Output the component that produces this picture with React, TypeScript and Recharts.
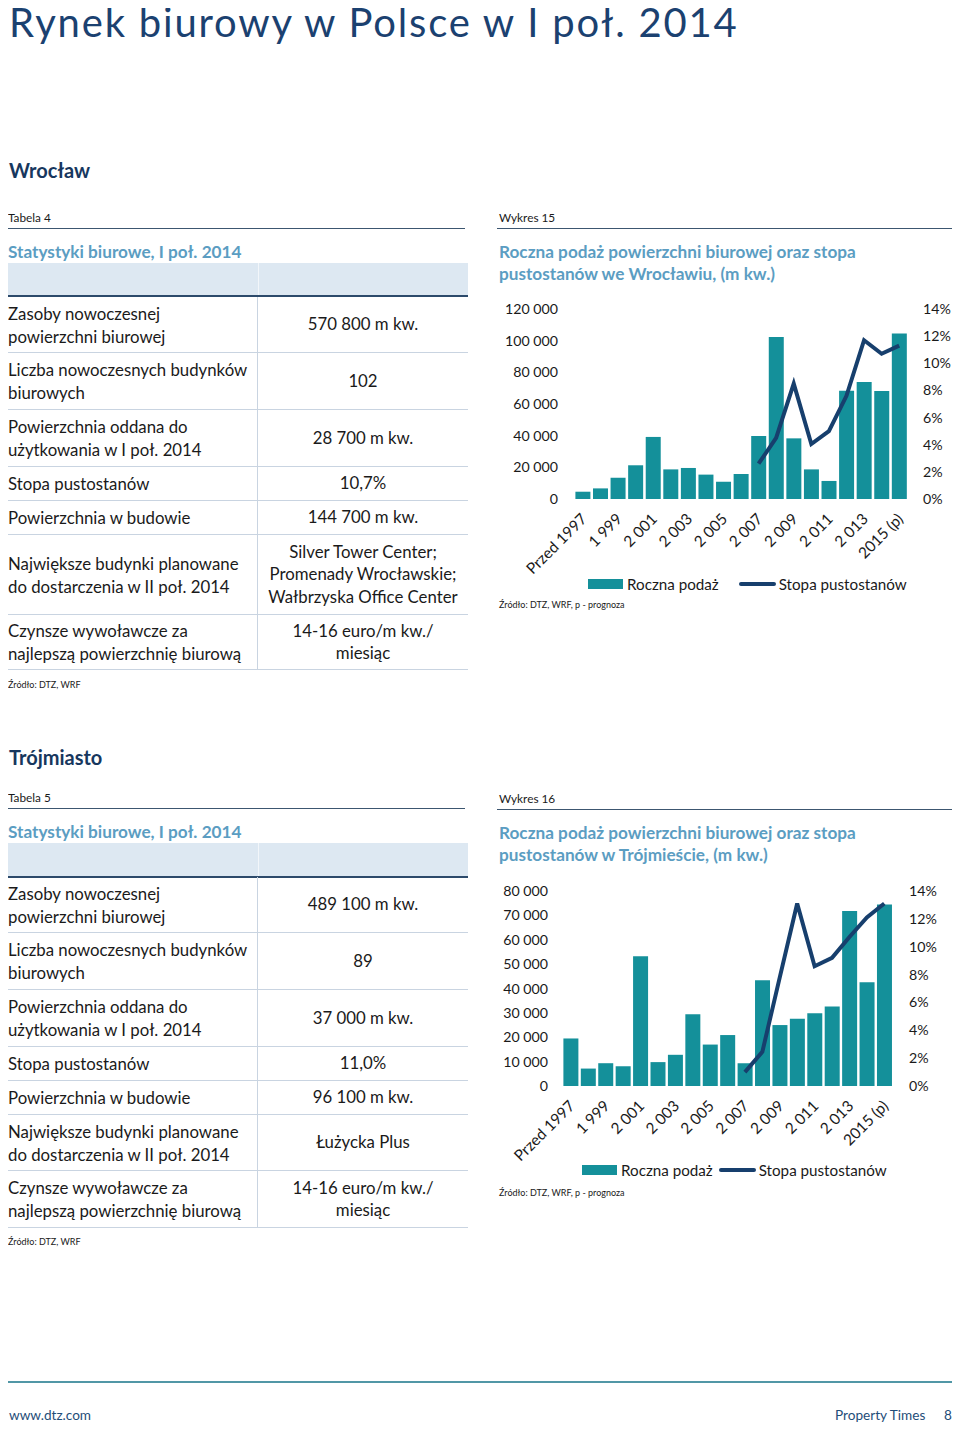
import React from 'react';
import { ComposedChart, Bar, Line, XAxis, YAxis, Legend } from 'recharts';

const FONT = "Lato, 'Open Sans', sans-serif";
const NAVY = '#173f6d';
const DARK = '#17375e';
const TEAL = '#14909a';
const LIGHTBLUE = '#5b9dc2';
const TEXT = '#1a1a1a';

// ---- chart data ----
const categories = ['Przed 1997', '1 998', '1 999', '2 000', '2 001', '2 002', '2 003', '2 004', '2 005', '2 006', '2 007', '2 008', '2 009', '2 010', '2 011', '2 012', '2 013', '2 014', '2015 (p)'];
const wroclawSupply = [4600, 6700, 13500, 21300, 39200, 18700, 19600, 15400, 10900, 15800, 39800, 102300, 38300, 18700, 11400, 68400, 73900, 68200, 104600];
const wroclawVacancy = [null, null, null, null, null, null, null, null, null, null, 0.026, 0.045, 0.085, 0.0405, 0.05, 0.076, 0.117, 0.107, 0.113];
const trojmiastoSupply = [19500, 7150, 9350, 8100, 53200, 9800, 12800, 29400, 17000, 20900, 9350, 43400, 25000, 27600, 29800, 32600, 71800, 42600, 74500];
const trojmiastoVacancy = [null, null, null, null, null, null, null, null, null, null, 0.01, 0.0245, 0.078, 0.131, 0.086, 0.092, 0.107, 0.121, 0.131];
const wroclawLeftTicks = [0, 20000, 40000, 60000, 80000, 100000, 120000];
const trojmiastoLeftTicks = [0, 10000, 20000, 30000, 40000, 50000, 60000, 70000, 80000];
const rightTicks = [0, 0.02, 0.04, 0.06, 0.08, 0.1, 0.12, 0.14];
const seriesNames = ['Roczna podaż', 'Stopa pustostanów'];

// ---- table data ----
const tableLabels = [
  ['Zasoby nowoczesnej', 'powierzchni biurowej'],
  ['Liczba nowoczesnych budynków', 'biurowych'],
  ['Powierzchnia oddana do', 'użytkowania w I poł. 2014'],
  ['Stopa pustostanów'],
  ['Powierzchnia w budowie'],
  ['Największe budynki planowane', 'do dostarczenia w II poł. 2014'],
  ['Czynsze wywoławcze za', 'najlepszą powierzchnię biurową'],
];
const wroclawValues = [
  ['570 800 m kw.'],
  ['102'],
  ['28 700 m kw.'],
  ['10,7%'],
  ['144 700 m kw.'],
  ['Silver Tower Center;', 'Promenady Wrocławskie;', 'Wałbrzyska Office Center'],
  ['14-16 euro/m kw./', 'miesiąc'],
];
const trojmiastoValues = [
  ['489 100 m kw.'],
  ['89'],
  ['37 000 m kw.'],
  ['11,0%'],
  ['96 100 m kw.'],
  ['Łużycka Plus'],
  ['14-16 euro/m kw./', 'miesiąc'],
];
const wroclawRowHeights = [56, 57, 57, 34, 34, 80, 55];
const trojmiastoRowHeights = [56, 57, 57, 34, 34, 56, 57];

const fmtThousands = (v: number) => String(v).replace(/\B(?=(\d{3})+(?!\d))/g, ' ');
const fmtPct = (v: number) => `${Math.round(v * 100)}%`;

function Txt({ x, cy, fs, children, style }: any) {
  return (
    <div
      style={{
        position: 'absolute',
        left: x,
        top: cy - 0.6 * fs,
        fontSize: fs,
        lineHeight: `${fs * 1.2}px`,
        fontFamily: FONT,
        whiteSpace: 'nowrap',
        ...style,
      }}
    >
      {children}
    </div>
  );
}

function HLine({ x1, x2, y, color, w = 1 }: any) {
  return <div style={{ position: 'absolute', left: x1, top: y, width: x2 - x1, height: w, background: color }} />;
}

function StatsTable({ top, values, heights }: any) {
  let y = top;
  const rows = tableLabels.map((lab, i) => {
    const h = heights[i];
    const rowTop = y;
    y += h;
    return (
      <div key={i} style={{ position: 'absolute', left: 3, top: rowTop, width: 465, height: h, borderBottom: '1px solid #c9d4e1', boxSizing: 'border-box', display: 'flex', fontFamily: FONT, fontSize: 16.8, color: TEXT }}>
        <div style={{ width: 255, display: 'flex', flexDirection: 'column', justifyContent: 'center', paddingLeft: 5, lineHeight: '23px', borderRight: '1px solid #c9d4e1', boxSizing: 'border-box' }}>
          {lab.map((l: string, k: number) => <div key={k} style={{ whiteSpace: 'nowrap' }}>{l}</div>)}
        </div>
        <div style={{ flex: 1, display: 'flex', flexDirection: 'column', justifyContent: 'center', alignItems: 'center', lineHeight: '22.5px' }}>
          {values[i].map((l: string, k: number) => <div key={k} style={{ whiteSpace: 'nowrap' }}>{l}</div>)}
        </div>
      </div>
    );
  });
  return <>{rows}</>;
}

const XTick = (props: any) => {
  const { x, y, payload } = props;
  return (
    <g transform={`translate(${x + 5},${y + 21})`}>
      <text transform="rotate(-45)" textAnchor="end" fontSize={15.4} fontFamily={FONT} fill={TEXT}>
        {payload.value}
      </text>
    </g>
  );
};

const LegendContent = ({ padLeft, gap }: any) => (
  <div style={{ height: 24, display: 'flex', alignItems: 'center', paddingLeft: padLeft, fontFamily: FONT, fontSize: 15.2, color: TEXT }}>
    <div style={{ width: 35, height: 10, background: TEAL, marginRight: 4 }} />
    <span>{seriesNames[0]}</span>
    <div style={{ width: 37, height: 4, background: NAVY, marginLeft: gap, marginRight: 3, borderRadius: 2 }} />
    <span>{seriesNames[1]}</span>
  </div>
);

function SupplyChart({ left, top, width, height, supply, vacancy, leftTicks, leftMax, yLeftWidth, yRightWidth, xAxisHeight, leftMargin, rightMargin, padLeft, gap }: any) {
  const data = categories.map((c, i) => ({ name: c, supply: supply[i], vacancy: vacancy[i] }));
  return (
    <div style={{ position: 'absolute', left, top }}>
      <ComposedChart width={width} height={height} data={data} margin={{ top: 14, right: 0, bottom: 0, left: 0 }} barCategoryGap="8%">
        <XAxis dataKey="name" interval={1} tick={<XTick />} tickLine={false} axisLine={false} tickSize={0} tickMargin={0} height={xAxisHeight} />
        <YAxis yAxisId="l" orientation="left" domain={[0, leftMax]} ticks={leftTicks} tickFormatter={fmtThousands} width={yLeftWidth} tickLine={false} axisLine={false} tickSize={0} tickMargin={leftMargin} tick={{ fontSize: 14.2, fontFamily: FONT, fill: TEXT }} interval={0} />
        <YAxis yAxisId="r" orientation="right" domain={[0, 0.14]} ticks={rightTicks} tickFormatter={fmtPct} width={yRightWidth} tickLine={false} axisLine={false} tickSize={0} tickMargin={rightMargin} tick={{ fontSize: 14.2, fontFamily: FONT, fill: TEXT, textAnchor: 'start' }} interval={0} />
        <Bar yAxisId="l" dataKey="supply" name={seriesNames[0]} fill={TEAL} isAnimationActive={false} />
        <Line yAxisId="r" dataKey="vacancy" name={seriesNames[1]} stroke={NAVY} strokeWidth={4} dot={false} isAnimationActive={false} type="linear" />
        <Legend verticalAlign="bottom" align="left" wrapperStyle={{ left: 0, width }} content={() => <LegendContent padLeft={padLeft} gap={gap} />} />
      </ComposedChart>
    </div>
  );
}

export default function App() {
  return (
    <div style={{ position: 'relative', width: 960, height: 1429, margin: '-8px 0 0 -8px', background: '#fff', overflow: 'hidden', fontFamily: FONT }}>
      <div style={{ position: 'absolute', left: 9, top: 0, fontSize: 40, letterSpacing: 1.8, lineHeight: '44px', fontFamily: FONT, whiteSpace: 'nowrap', color: '#1b4170' }}>
        Rynek biurowy w Polsce w I poł. 2014
      </div>

      {/* Wrocław section */}
      <Txt x={9} cy={170} fs={20} style={{ color: DARK, fontWeight: 700 }}>Wrocław</Txt>
      <Txt x={8} cy={218} fs={11.8} style={{ color: TEXT }}>Tabela 4</Txt>
      <HLine x1={5} x2={465} y={228} color="#3c5670" />
      <Txt x={8} cy={252} fs={17.2} style={{ color: LIGHTBLUE, fontWeight: 700 }}>Statystyki biurowe, I poł. 2014</Txt>
      <div style={{ position: 'absolute', left: 3, top: 263, width: 465, height: 32, background: '#dde8f2' }} />
      <div style={{ position: 'absolute', left: 258, top: 263, width: 1, height: 32, background: '#f2f6fa' }} />
      <HLine x1={3} x2={468} y={295} color="#2c4a6b" w={1.5} />
      <StatsTable top={297} values={wroclawValues} heights={wroclawRowHeights} />
      <Txt x={8} cy={685} fs={9} style={{ color: TEXT }}>Źródło: DTZ, WRF</Txt>

      <Txt x={499} cy={218} fs={11.8} style={{ color: TEXT }}>Wykres 15</Txt>
      <HLine x1={497} x2={955} y={228} color="#3c5670" />
      <div style={{ position: 'absolute', left: 499, top: 241, fontFamily: FONT, fontSize: 17.2, lineHeight: '22px', color: LIGHTBLUE, fontWeight: 700, whiteSpace: 'nowrap' }}>
        <div>Roczna podaż powierzchni biurowej oraz stopa</div>
        <div>pustostanów we Wrocławiu, (m kw.)</div>
      </div>
      <SupplyChart left={495} top={295} width={465} height={301} supply={wroclawSupply} vacancy={wroclawVacancy} leftTicks={wroclawLeftTicks} leftMax={120000} yLeftWidth={79} yRightWidth={52} xAxisHeight={73} leftMargin={16} rightMargin={15} padLeft={93} gap={20} />
      <Txt x={499} cy={605} fs={9} style={{ color: TEXT }}>Źródło: DTZ, WRF, p - prognoza</Txt>

      {/* Trójmiasto section */}
      <Txt x={9} cy={757} fs={20} style={{ color: DARK, fontWeight: 700 }}>Trójmiasto</Txt>
      <Txt x={8} cy={798} fs={11.8} style={{ color: TEXT }}>Tabela 5</Txt>
      <HLine x1={5} x2={465} y={808} color="#3c5670" />
      <Txt x={8} cy={832} fs={17.2} style={{ color: LIGHTBLUE, fontWeight: 700 }}>Statystyki biurowe, I poł. 2014</Txt>
      <div style={{ position: 'absolute', left: 3, top: 843, width: 465, height: 33, background: '#dde8f2' }} />
      <div style={{ position: 'absolute', left: 258, top: 843, width: 1, height: 33, background: '#f2f6fa' }} />
      <HLine x1={3} x2={468} y={876} color="#2c4a6b" w={1.5} />
      <StatsTable top={877} values={trojmiastoValues} heights={trojmiastoRowHeights} />
      <Txt x={8} cy={1242} fs={9} style={{ color: TEXT }}>Źródło: DTZ, WRF</Txt>

      <Txt x={499} cy={799} fs={11.8} style={{ color: TEXT }}>Wykres 16</Txt>
      <HLine x1={497} x2={955} y={809} color="#3c5670" />
      <div style={{ position: 'absolute', left: 499, top: 822, fontFamily: FONT, fontSize: 17.2, lineHeight: '22px', color: LIGHTBLUE, fontWeight: 700, whiteSpace: 'nowrap' }}>
        <div>Roczna podaż powierzchni biurowej oraz stopa</div>
        <div>pustostanów w Trójmieście, (m kw.)</div>
      </div>
      <SupplyChart left={490} top={877} width={470} height={305} supply={trojmiastoSupply} vacancy={trojmiastoVacancy} leftTicks={trojmiastoLeftTicks} leftMax={80000} yLeftWidth={72} yRightWidth={67} xAxisHeight={72} leftMargin={14} rightMargin={16} padLeft={92} gap={6} />
      <Txt x={499} cy={1193} fs={9} style={{ color: TEXT }}>Źródło: DTZ, WRF, p - prognoza</Txt>

      {/* footer */}
      <HLine x1={5} x2={952} y={1381} color="#5197a6" w={1.5} />
      <Txt x={9} cy={1415} fs={13.6} style={{ color: '#1f4e79' }}>www.dtz.com</Txt>
      <Txt x={835} cy={1415} fs={13.6} style={{ color: '#1f4e79' }}>Property Times</Txt>
      <Txt x={944} cy={1415} fs={13.6} style={{ color: '#1f4e79' }}>8</Txt>
    </div>
  );
}
